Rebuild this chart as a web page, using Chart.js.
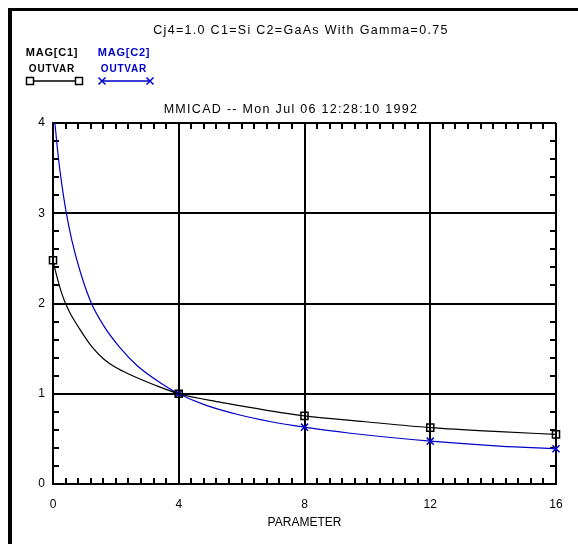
<!DOCTYPE html>
<html>
<head>
<meta charset="utf-8">
<script src="https://cdn.jsdelivr.net/npm/chart.js@4/dist/chart.umd.min.js"></script>
<style>
html,body{margin:0;padding:0;background:#fff;}
#wrap{width:578px;height:544px;position:relative;}
</style>
</head>
<body>
<div id="wrap"><canvas id="c" width="578" height="544"></canvas></div>
<script>
// ---- data ----
const titleText = "Cj4=1.0 C1=Si C2=GaAs With Gamma=0.75";
const subTitleText = "MMICAD -- Mon Jul 06 12:28:10 1992";
const xAxisTitle = "PARAMETER";
const seriesNames = ["MAG[C1]", "MAG[C2]"];
const seriesSub = ["OUTVAR", "OUTVAR"];
const xTickLabels = [0, 4, 8, 12, 16];
const yTickLabels = [0, 1, 2, 3, 4];
const markerX = [0, 4, 8, 12, 16];

const c1X = [0, 0.1, 0.2, 0.3, 0.4, 0.55, 0.7, 0.86, 1.05, 1.24, 1.61, 2.0, 2.46, 3.21, 4.0, 5.34, 6.41, 8.0, 9.93, 12.0, 14.2, 16.0];
const c1Y = [2.48, 2.33, 2.2, 2.09, 2.0, 1.89, 1.80, 1.71, 1.61, 1.52, 1.385, 1.29, 1.21, 1.10, 1.0, 0.905, 0.84, 0.755, 0.69, 0.625, 0.58, 0.55];

const c2X = [0.06, 0.17, 0.28, 0.41, 0.6, 0.86, 1.2, 1.6, 2.13, 2.68, 3.42, 4.0, 4.81, 5.88, 6.94, 8.0, 9.4, 12.0, 14.2, 16.0];
const c2Y = [4.0, 3.62, 3.32, 3.03, 2.70, 2.36, 2.02, 1.76, 1.51, 1.31, 1.12, 1.0, 0.88, 0.77, 0.69, 0.63, 0.565, 0.475, 0.42, 0.39];

const BLUE = '#0000c8';
const FONT = "'Liberation Sans', Arial, sans-serif";

function pts(xs, ys){ return xs.map((x,i)=>({x:x,y:ys[i]})); }
function radii(xs){ return xs.map(x => markerX.includes(x) ? 5 : 0); }

const decoPlugin = {
  id: 'deco',
  beforeDraw(chart){
    const ctx = chart.ctx;
    ctx.save();
    ctx.fillStyle = '#fff';
    ctx.fillRect(0,0,chart.width,chart.height);
    ctx.fillStyle = '#000';
    ctx.fillRect(8, 8, 4, chart.height - 8);
    ctx.fillRect(8, 8, chart.width - 8, 3);
    ctx.restore();
  },
  beforeDatasetsDraw(chart){
    const ctx = chart.ctx, xs = chart.scales.x, ys = chart.scales.y;
    const a = chart.chartArea;
    ctx.save();
    ctx.strokeStyle = '#000';
    ctx.lineWidth = 2;
    ctx.beginPath();
    for (let i = 1; i < 40; i++) {
      if (i % 10 === 0) continue;
      const px = Math.round(xs.getPixelForValue(i * 0.4));
      ctx.moveTo(px, a.bottom); ctx.lineTo(px, a.bottom - 6);
      ctx.moveTo(px, a.top); ctx.lineTo(px, a.top + 6);
    }
    for (let i = 1; i < 20; i++) {
      if (i % 5 === 0) continue;
      const py = Math.round(ys.getPixelForValue(i * 0.2));
      ctx.moveTo(a.left, py); ctx.lineTo(a.left + 6, py);
      ctx.moveTo(a.right, py); ctx.lineTo(a.right - 6, py);
    }
    ctx.stroke();
    ctx.restore();
  },
  afterDraw(chart){
    const ctx = chart.ctx;
    ctx.save();
    ctx.textAlign = 'center';
    ctx.textBaseline = 'middle';
    ctx.fillStyle = '#000';
    ctx.letterSpacing = '1.3px';
    ctx.font = "12.5px " + FONT;
    ctx.fillText(titleText, 301, 31);
    ctx.fillText(subTitleText, 291, 110);
    // legend
    const items = [
      {cx: 52, color: '#000', x0: 30, x1: 79, style: 'rect'},
      {cx: 124, color: BLUE, x0: 102, x1: 150, style: 'cross'}
    ];
    ctx.letterSpacing = '0.8px';
    items.forEach((it, i) => {
      ctx.fillStyle = it.color;
      ctx.font = "bold 11px " + FONT;
      ctx.fillText(seriesNames[i], it.cx, 53);
      ctx.font = "bold 10px " + FONT;
      ctx.fillText(seriesSub[i], it.cx, 69);
      ctx.strokeStyle = it.color;
      ctx.lineWidth = 1.5;
      ctx.beginPath(); ctx.moveTo(it.x0, 81); ctx.lineTo(it.x1, 81); ctx.stroke();
      [it.x0, it.x1].forEach(px => {
        ctx.beginPath();
        if (it.style === 'rect') {
          ctx.fillStyle = '#fff';
          ctx.fillRect(px - 3.5, 77.5, 7, 7);
          ctx.strokeRect(px - 3.5, 77.5, 7, 7);
        } else {
          ctx.moveTo(px - 3.5, 77.5); ctx.lineTo(px + 3.5, 84.5);
          ctx.moveTo(px + 3.5, 77.5); ctx.lineTo(px - 3.5, 84.5);
          ctx.stroke();
        }
      });
    });
    ctx.restore();
  }
};

new Chart(document.getElementById('c'), {
  type: 'scatter',
  data: {
    datasets: [
      {
        label: seriesNames[0],
        data: pts(c1X, c1Y),
        showLine: true,
        clip: false,
        borderColor: '#000',
        borderWidth: 1.2,
        cubicInterpolationMode: 'monotone',
        pointStyle: 'rect',
        pointRadius: radii(c1X),
        pointHoverRadius: radii(c1X),
        pointBorderColor: '#000',
        pointBackgroundColor: 'rgba(255,255,255,0)',
        pointBorderWidth: 1.5
      },
      {
        label: seriesNames[1],
        data: pts(c2X, c2Y),
        showLine: true,
        clip: false,
        borderColor: BLUE,
        borderWidth: 1.2,
        cubicInterpolationMode: 'monotone',
        pointStyle: 'crossRot',
        pointRadius: radii(c2X),
        pointHoverRadius: radii(c2X),
        pointBorderColor: BLUE,
        pointBorderWidth: 1.5
      }
    ]
  },
  options: {
    responsive: false,
    animation: false,
    events: [],
    layout: { padding: { top: 123, right: 22, left: 0, bottom: 0 } },
    plugins: { legend: { display: false }, title: { display: false }, tooltip: { enabled: false } },
    scales: {
      x: {
        type: 'linear', min: 0, max: 16,
        afterBuildTicks(s){ s.ticks = xTickLabels.map(v => ({value: v})); },
        afterFit(s){ s.height = 60; },
        grid: { color: '#000', lineWidth: 2, drawTicks: false },
        border: { color: '#000', width: 2 },
        ticks: { color: '#000', padding: 13, font: { family: FONT, size: 12 }, maxRotation: 0 },
        title: { display: true, text: xAxisTitle, color: '#000', font: { family: FONT, size: 12 }, padding: { top: 0, bottom: 14.5 } }
      },
      y: {
        type: 'linear', min: 0, max: 4,
        afterBuildTicks(s){ s.ticks = yTickLabels.map(v => ({value: v})); },
        afterFit(s){ s.width = 53; },
        grid: { color: '#000', lineWidth: 2, drawTicks: false },
        border: { color: '#000', width: 2 },
        ticks: { color: '#000', padding: 8, font: { family: FONT, size: 12 } }
      }
    }
  },
  plugins: [decoPlugin]
});
</script>
</body>
</html>
